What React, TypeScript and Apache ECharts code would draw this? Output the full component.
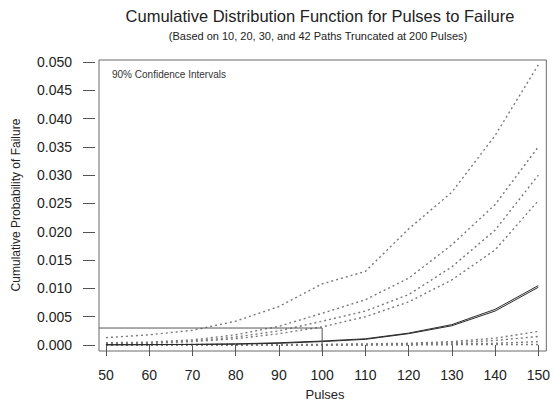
import React, { useEffect, useRef } from "react";
import * as echarts from "echarts";

const pulses = [50, 60, 70, 80, 90, 100, 110, 120, 130, 140, 150];
const xTicks = [50, 60, 70, 80, 90, 100, 110, 120, 130, 140, 150];
const yTicks = [0, 0.005, 0.01, 0.015, 0.02, 0.025, 0.03, 0.035, 0.04, 0.045, 0.05];

const upper10 = [0.0013, 0.0018, 0.0026, 0.0042, 0.0068, 0.0108, 0.013, 0.0205, 0.027, 0.037, 0.0495];
const upper20 = [0.0004, 0.0005, 0.0009, 0.0018, 0.0033, 0.0056, 0.008, 0.0118, 0.0177, 0.0248, 0.035];
const upper30 = [0.0003, 0.0004, 0.0007, 0.0014, 0.0025, 0.0042, 0.006, 0.0089, 0.0138, 0.0203, 0.03];
const upper42 = [0.0002, 0.0003, 0.0006, 0.0011, 0.002, 0.0032, 0.005, 0.0076, 0.0115, 0.0168, 0.0255];
const estimateA = [0.00005, 0.00008, 0.0001, 0.0002, 0.0004, 0.0007, 0.0011, 0.0021, 0.0036, 0.0063, 0.0105];
const estimateB = [0.00003, 0.00005, 0.0001, 0.00015, 0.0003, 0.0006, 0.001, 0.002, 0.0034, 0.006, 0.0102];
const lower1 = [0.0001, 0.0001, 0.0001, 0.0001, 0.0001, 0.0001, 0.0002, 0.0003, 0.0006, 0.0012, 0.0024];
const lower2 = [0.00005, 0.00005, 0.00005, 0.00005, 0.00005, 0.00005, 0.0001, 0.0002, 0.0004, 0.0008, 0.0015];
const lower3 = [0, 0, 0, 0, 0, 0, 0.00005, 0.0001, 0.0002, 0.0003, 0.0006];
const lower4 = [0, 0, 0, 0, 0, 0, 0, 0, 0.00005, 0.0001, 0.0001];

const insetBox = [
  [48.39, 0.003],
  [100, 0.003],
  [100, -0.00106],
];

const titleText = "Cumulative Distribution Function for Pulses to Failure";
const subtitleText = "(Based on 10, 20, 30, and 42 Paths Truncated at 200 Pulses)";
const noteText = "90% Confidence Intervals";
const xName = "Pulses";
const yName = "Cumulative Probability of Failure";

const FONT = "'Liberation Sans', Arial, Helvetica, sans-serif";

export default function App() {
  const ref = useRef<HTMLDivElement>(null);
  useEffect(() => {
    if (!ref.current) return;
    const chart = echarts.init(ref.current, undefined, { renderer: "svg" });
    const pair = (arr: number[]) => pulses.map((p, i) => [p, arr[i]]);
    const dotted = (name: string, arr: number[]) => ({
      type: "line",
      name,
      data: pair(arr),
      showSymbol: false,
      symbol: "none",
      lineStyle: { color: "#7a7a7a", width: 1.4, type: [2, 3] },
      silent: true,
    });
    const solid = (name: string, arr: number[]) => ({
      type: "line",
      name,
      data: pair(arr),
      showSymbol: false,
      symbol: "none",
      lineStyle: { color: "#2a2a2a", width: 1 },
      silent: true,
    });
    chart.setOption({
      animation: false,
      backgroundColor: "#fff",
      grid: {
        left: 99,
        right: 2,
        top: 60,
        bottom: 50,
        show: true,
        borderColor: "#6a6a6a",
        borderWidth: 1,
        backgroundColor: "transparent",
      },
      xAxis: {
        type: "value",
        min: 48.39,
        max: 151.85,
        offset: 1,
        axisLine: { show: false },
        splitLine: { show: false },
        axisTick: { show: true, length: 11, lineStyle: { color: "#555" }, customValues: xTicks },
        axisLabel: {
          customValues: xTicks,
          margin: 16,
          color: "#222",
          fontSize: 14,
          fontFamily: FONT,
          formatter: (v: number) => String(Math.round(v)),
        },
      },
      yAxis: {
        type: "value",
        min: -0.00106,
        max: 0.05035,
        offset: 4,
        axisLine: { show: false },
        splitLine: { show: false },
        axisTick: { show: true, length: 12, lineStyle: { color: "#555" }, customValues: yTicks },
        axisLabel: {
          customValues: yTicks,
          margin: 23,
          color: "#222",
          fontSize: 14,
          fontFamily: FONT,
          formatter: (v: number) => v.toFixed(3),
        },
      },
      graphic: [
        {
          type: "text",
          x: 320,
          y: 16,
          style: {
            text: titleText,
            fill: "#222",
            font: `16.5px ${FONT}`,
            textAlign: "center",
            textVerticalAlign: "middle",
          },
        },
        {
          type: "text",
          x: 318,
          y: 36,
          style: {
            text: subtitleText,
            fill: "#222",
            font: `11px ${FONT}`,
            textAlign: "center",
            textVerticalAlign: "middle",
          },
        },
        {
          type: "text",
          x: 112,
          y: 74,
          style: {
            text: noteText,
            fill: "#333",
            font: `10px ${FONT}`,
            textAlign: "left",
            textVerticalAlign: "middle",
          },
        },
        {
          type: "text",
          x: 325,
          y: 394,
          style: {
            text: xName,
            fill: "#222",
            font: `13px ${FONT}`,
            textAlign: "center",
            textVerticalAlign: "middle",
          },
        },
        {
          type: "text",
          x: 16,
          y: 205,
          rotation: Math.PI / 2,
          style: {
            text: yName,
            fill: "#222",
            font: `12px ${FONT}`,
            textAlign: "center",
            textVerticalAlign: "middle",
          },
        },
      ],
      series: [
        dotted("upper10", upper10),
        dotted("upper20", upper20),
        dotted("upper30", upper30),
        dotted("upper42", upper42),
        dotted("lower1", lower1),
        dotted("lower2", lower2),
        dotted("lower3", lower3),
        dotted("lower4", lower4),
        solid("estimateA", estimateA),
        solid("estimateB", estimateB),
        {
          type: "line",
          name: "inset",
          data: insetBox,
          showSymbol: false,
          symbol: "none",
          clip: false,
          lineStyle: { color: "#555", width: 1 },
          silent: true,
        },
      ],
    });
    return () => chart.dispose();
  }, []);
  return (
    <div
      ref={ref}
      style={{ position: "fixed", left: 0, top: 0, width: 553, height: 401, background: "#fff" }}
    />
  );
}
